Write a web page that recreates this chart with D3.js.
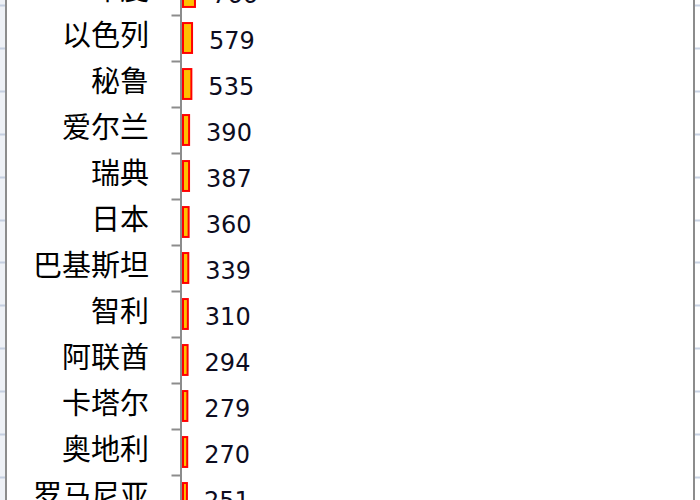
<!DOCTYPE html>
<html>
<head>
<meta charset="utf-8">
<script src="https://cdn.jsdelivr.net/npm/d3@7"></script>
<style>
  body { margin: 0; background: #fff; }
  svg { display: block; }
</style>
</head>
<body>
<div id="chart"></div>
<script>
// countries shown in this part of the chart, top to bottom
var countries = ["印度", "以色列", "秘鲁", "爱尔兰", "瑞典", "日本", "巴基斯坦", "智利", "阿联酋", "卡塔尔", "奥地利", "罗马尼亚"];
var values = [766, 579, 535, 390, 387, 360, 339, 310, 294, 279, 270, 251];

var data = countries.map(function(c, i){ return {name: c, value: values[i]}; });

var width = 700, height = 500;

var svg = d3.select("#chart").append("svg")
    .attr("width", width)
    .attr("height", height);

// worksheet bits visible outside the chart frame
var rowLines = d3.range(5, height, 42.9);
svg.append("rect").attr("x", 0).attr("y", 0).attr("width", 5).attr("height", height).attr("fill", "#eef1f6");
svg.selectAll(".rowL").data(rowLines).enter().append("line")
    .attr("x1", 0).attr("x2", 5)
    .attr("y1", d => Math.round(d) + 0.5).attr("y2", d => Math.round(d) + 0.5)
    .attr("stroke", "#c5cfe0").attr("stroke-width", 2);
svg.selectAll(".rowR").data(rowLines).enter().append("line")
    .attr("x1", 695).attr("x2", 700)
    .attr("y1", d => Math.round(d) + 0.5).attr("y2", d => Math.round(d) + 0.5)
    .attr("stroke", "#c9d3e3").attr("stroke-width", 2);
svg.append("line").attr("x1", 6).attr("x2", 6).attr("y1", 0).attr("y2", height)
    .attr("stroke", "#8c8c8c").attr("stroke-width", 2);
svg.append("line").attr("x1", 694).attr("x2", 694).attr("y1", 0).attr("y2", height)
    .attr("stroke", "#8c8c8c").attr("stroke-width", 2);

var x = d3.scaleLinear()
    .domain([0, 32000])
    .range([181, 681]);

var y = d3.scaleBand()
    .domain(countries)
    .range([-31, 521])
    .paddingInner(0.35)
    .paddingOuter(0.175);

// category boundaries for Excel-style ticks between categories
var yEdge = d3.scaleLinear()
    .domain([0, countries.length])
    .range([-31, 521]);

var axis = svg.append("g")
    .attr("transform", "translate(180.5,0)")
    .call(d3.axisLeft(yEdge)
        .tickValues(d3.range(0, countries.length + 1))
        .tickFormat("")
        .tickSizeInner(9)
        .tickSizeOuter(0));
axis.select(".domain").attr("stroke", "#8c8c8c").attr("stroke-width", 2);
axis.selectAll(".tick line").attr("stroke", "#8c8c8c").attr("stroke-width", 2);

// category labels
svg.selectAll(".cat")
    .data(data)
    .enter()
    .append("text")
    .attr("x", 149)
    .attr("y", d => y(d.name) + y.bandwidth() / 2 - 2)
    .attr("dy", "0.35em")
    .attr("text-anchor", "end")
    .style("font-family", "'Noto Sans CJK SC', sans-serif")
    .style("font-size", "29px")
    .attr("fill", "#000")
    .text(d => d.name);

// bars
svg.selectAll(".bar")
    .data(data)
    .enter()
    .append("rect")
    .attr("x", x(0) + 2)
    .attr("y", d => y(d.name))
    .attr("width", d => x(d.value) - x(0))
    .attr("height", y.bandwidth())
    .attr("fill", "#ffc000")
    .attr("stroke", "#ff0000")
    .attr("stroke-width", 2);

// value labels
svg.selectAll(".val")
    .data(data)
    .enter()
    .append("text")
    .attr("x", d => x(d.value) + 19)
    .attr("y", d => y(d.name) + y.bandwidth() / 2 + 11)
    .style("font-family", "'DejaVu Sans', sans-serif")
    .style("font-size", "24px")
    .attr("fill", "#0d0d1f")
    .text(d => d.value);
</script>
</body>
</html>
